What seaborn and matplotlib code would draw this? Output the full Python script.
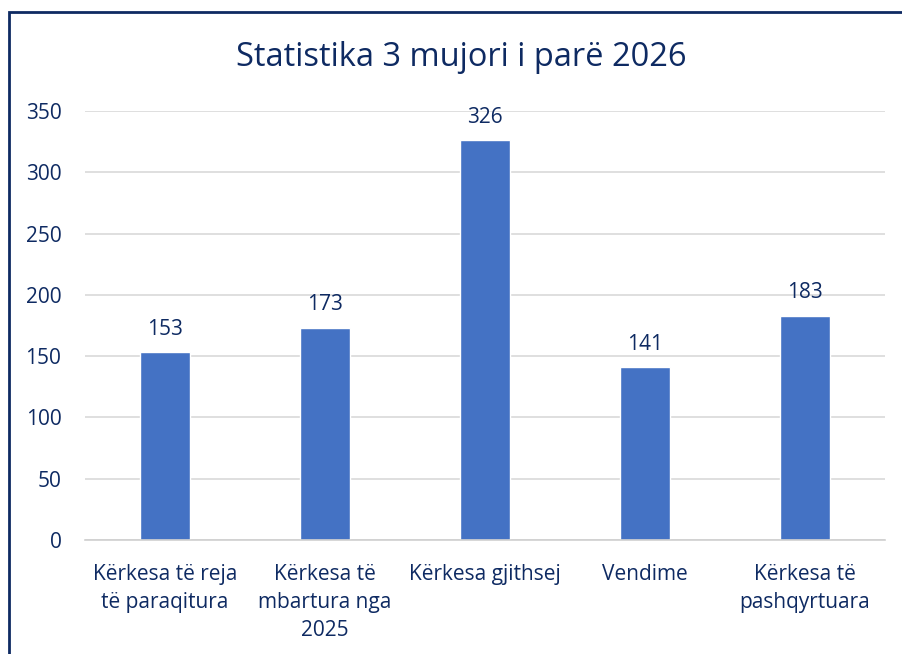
import pandas as pd
import seaborn as sns
import matplotlib.pyplot as plt
from matplotlib.patches import Rectangle

# Data
categories = ['Kërkesa të reja\ntë paraqitura', 'Kërkesa të\nmbartura nga\n2025',
              'Kërkesa gjithsej', 'Vendime', 'Kërkesa të\npashqyrtuara']
values = [153, 173, 326, 141, 183]
yticks = [0, 50, 100, 150, 200, 250, 300, 350]

navy = '#0E2A62'
bar_color = '#4472C4'

sns.set_theme(style='white')
plt.rcParams['font.family'] = ['Open Sans', 'DejaVu Sans']

df = pd.DataFrame({'category': categories, 'value': values})

fig = plt.figure(figsize=(9.02, 6.54), dpi=100)
ax = fig.add_axes([85 / 902, 1 - 540 / 654, 800 / 902, 429 / 654])

sns.barplot(data=df, x='category', y='value', color=bar_color, width=0.31,
            saturation=1, ax=ax)

ax.set_ylim(0, 350)
ax.set_xlim(-0.5, len(categories) - 0.5)
ax.set_yticks(yticks)
ax.yaxis.grid(True, color='#D9D9D9', linewidth=1.2)
ax.set_axisbelow(True)
for side in ['top', 'right', 'left']:
    ax.spines[side].set_visible(False)
ax.spines['bottom'].set_color('#D0D0D0')
ax.spines['bottom'].set_linewidth(1.2)
ax.tick_params(axis='y', length=0, pad=17, labelsize=15, labelcolor=navy)
ax.tick_params(axis='x', length=0, pad=17, labelsize=15, labelcolor=navy)
for lbl in ax.get_xticklabels():
    lbl.set_linespacing(1.45)
ax.set_xlabel('')
ax.set_ylabel('')

for i, v in enumerate(values):
    ax.annotate(str(v), (i, v), xytext=(0, 9), textcoords='offset points',
                ha='center', va='bottom', fontsize=15, color=navy)

fig.text(461 / 902, 1 - 58 / 654, 'Statistika 3 mujori i parë 2026', ha='center',
         va='center', fontsize=23.5, color=navy)

# chart frame, only left and top edges visible in the crop
fig.patches.append(Rectangle((9 / 902, -0.1), 1.2, 1 - 11.5 / 654 + 0.1,
                             transform=fig.transFigure, fill=False,
                             edgecolor=navy, linewidth=2))

fig.savefig('out.png', dpi=100)
